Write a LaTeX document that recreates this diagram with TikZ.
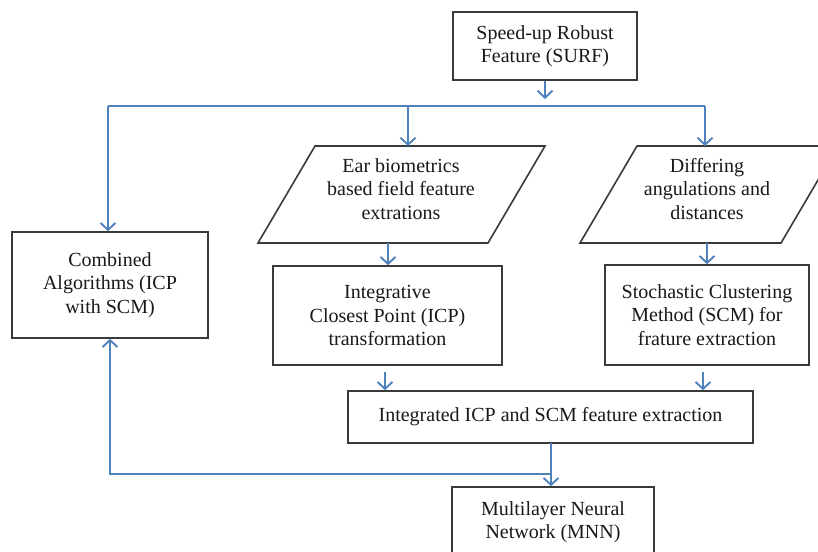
\documentclass[tikz,border=0pt]{standalone}
\usepackage{fontspec}
\setmainfont{Liberation Serif}
\usetikzlibrary{arrows.meta}
\definecolor{arrowblue}{HTML}{4F81BD}
\definecolor{boxline}{HTML}{3A3A3A}
\begin{document}
\begin{tikzpicture}[x=1pt,y=-1pt,
  box/.style={draw=boxline, line width=1.6pt, fill=white, align=center, inner sep=0pt,
    font=\fontsize{20}{23.5}\selectfont, text=black!90},
  para/.style={draw=boxline, line width=1.6pt, fill=white},
  txt/.style={align=center, inner sep=0pt, font=\fontsize{20}{23.5}\selectfont, text=black!90},
  conn/.style={draw=arrowblue, line width=1.9pt, -{Straight Barb[length=7pt,width=15pt,line width=1.9pt]}},
  line/.style={draw=arrowblue, line width=1.9pt}]
\useasboundingbox (0,0) rectangle (818,551);
\clip (0,0) rectangle (818,551);

% boxes
\node[box, minimum width=184pt, minimum height=68pt] (surf) at (545,46) {Speed-up Robust\\Feature (SURF)};
\node[box, minimum width=196pt, minimum height=106pt] (comb) at (110,285) {Combined\\Algorithms (ICP\\with SCM)};
\node[box, minimum width=229pt, minimum height=99pt] (icp) at (387.5,315.5) {Integrative\\Closest Point (ICP)\\transformation};
\node[box, minimum width=204pt, minimum height=100pt] (scm) at (707,315) {Stochastic Clustering\\Method (SCM) for\\frature extraction};
\node[box, minimum width=405pt, minimum height=52pt] (integ) at (550.5,417) {Integrated ICP and SCM feature extraction};
\node[box, minimum width=202pt, minimum height=70pt] (mnn) at (553,522) {Multilayer Neural\\Network (MNN)};

% parallelograms
\coordinate (p1tl) at (315,146); \coordinate (p1tr) at (545,146);
\coordinate (p1br) at (488,243); \coordinate (p1bl) at (258,243);
\draw[para] (p1tl) -- (p1tr) -- (p1br) -- (p1bl) -- cycle;
\node[txt] (ear) at (401,189) {Ear biometrics\\based field feature\\extrations};
\coordinate (p2tl) at (637,146); \coordinate (p2tr) at (838,146);
\coordinate (p2br) at (781,243); \coordinate (p2bl) at (580,243);
\draw[para] (p2tl) -- (p2tr) -- (p2br) -- (p2bl) -- cycle;
\node[txt] (diff) at (707,189) {Differing\\angulations and\\distances};

% connectors
\coordinate (busL) at (108,106);
\coordinate (busM) at (408,106);
\coordinate (busR) at (705,106);
\coordinate (surfend) at (545,99);
\coordinate (icpin) at (388,243);
\coordinate (integout) at (551,443);
\coordinate (join) at (551,474);
\draw[conn] (surf.south) -- (surfend);
\draw[line] (busL) -- (busR);
\draw[conn] (busL) -- (busL |- comb.north);
\draw[conn] (busM) -- (busM |- p1tl);
\draw[conn] (busR) -- (busR |- p2tl);
\draw[conn] (icpin) -- (icpin |- icp.north);
\draw[conn] (scm.north |- p2bl) -- (scm.north);
\draw[conn] ([xshift=-2.5pt,yshift=-6pt]icp.south) -- ([xshift=-2.5pt]icp.south |- integ.north);
\draw[conn] ([xshift=-4pt,yshift=-6pt]scm.south) -- ([xshift=-4pt]scm.south |- integ.north);
\draw[conn] (integout) -- (integout |- mnn.north);
\draw[conn] (join) -| (comb.south);
\end{tikzpicture}
\end{document}
